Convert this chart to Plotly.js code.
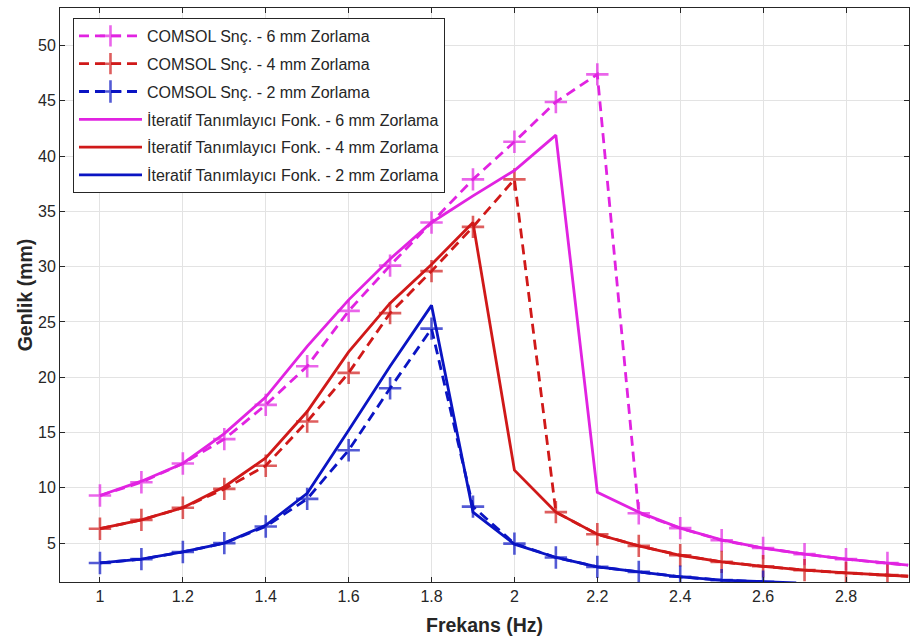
<!DOCTYPE html>
<html>
<head>
<meta charset="utf-8">
<script src="https://cdn.plot.ly/plotly-3.0.1.min.js"></script>
<style>html,body{margin:0;padding:0;background:#fff;}#chart{width:910px;height:644px;}</style>
</head>
<body>
<div id="chart"></div>
<script>
// Frequency (Hz) for COMSOL markers
const freqComsol = [1.0,1.1,1.2,1.3,1.4,1.5,1.6,1.7,1.8,1.9,2.0,2.1,2.2,2.3,2.4,2.5,2.6,2.7,2.8,2.9,2.95];
const comsol6 = [9.3,10.5,12.2,14.4,17.5,21.0,26.0,30.1,34.0,37.9,41.3,44.9,47.4,7.7,6.35,5.25,4.55,4.0,3.55,3.2,3.0];
const comsol4 = [6.3,7.1,8.2,9.9,12.0,16.0,20.4,25.8,29.6,33.6,37.9,7.8,5.8,4.75,3.9,3.3,2.9,2.55,2.3,2.1,2.0];
const freqComsol2 = [1.0,1.1,1.2,1.3,1.4,1.5,1.6,1.7,1.8,1.9,2.0,2.1,2.2,2.3,2.4,2.5,2.6];
const comsol2 = [3.2,3.55,4.2,5.0,6.5,9.0,13.4,19.0,24.4,8.3,4.95,3.7,2.85,2.4,1.95,1.65,1.5];

// Iterative describing function results
const freqIter = [1.0,1.1,1.2,1.3,1.4,1.5,1.6,1.7,1.8,1.9,2.0,2.1,2.2,2.3,2.4,2.5,2.6,2.7,2.8,2.9,2.95];
const iter6 = [9.3,10.6,12.2,14.9,18.2,22.8,27.0,30.7,34.0,36.4,38.7,41.9,9.6,7.8,6.35,5.3,4.55,4.0,3.55,3.2,3.0];
const iter4 = [6.3,7.1,8.2,10.1,12.7,16.9,22.3,26.7,30.2,34.0,11.6,7.8,5.8,4.75,3.9,3.3,2.9,2.55,2.3,2.1,2.0];
const freqIter2 = [1.0,1.1,1.2,1.3,1.4,1.5,1.6,1.7,1.8,1.9,2.0,2.1,2.2,2.3,2.4,2.5,2.6,2.68];
const iter2 = [3.2,3.55,4.2,5.0,6.6,9.5,15.2,21.0,26.5,7.8,4.9,3.7,2.85,2.4,1.95,1.65,1.5,1.4];

const names = [
  "COMSOL Snç. - 6 mm Zorlama",
  "COMSOL Snç. - 4 mm Zorlama",
  "COMSOL Snç. - 2 mm Zorlama",
  "İteratif Tanımlayıcı Fonk. - 6 mm Zorlama",
  "İteratif Tanımlayıcı Fonk. - 4 mm Zorlama",
  "İteratif Tanımlayıcı Fonk. - 2 mm Zorlama"
];
const xTicks = [1,1.2,1.4,1.6,1.8,2,2.2,2.4,2.6,2.8];
const yTicks = [5,10,15,20,25,30,35,40,45,50];

const cMag = "rgb(225,35,225)";
const cRed = "rgb(208,25,25)";
const cBlue = "rgb(10,20,195)";

function dashed(x, y, name, color, g) {
  // last point (2.95) is the line running to the edge, no marker there
  const sizes = x.map(v => v > 2.92 ? 0 : 16);
  return {x, y, name, legendgroup: g, type: "scatter", mode: "lines+markers",
    line: {color, width: 2.8, dash: "10px,6px"},
    marker: {symbol: "cross-thin-open", size: sizes, color, line: {color, width: 2.6}}};
}
function solid(x, y, name, color, g) {
  return {x, y, name, legendgroup: g, type: "scatter", mode: "lines", line: {color, width: 2.8}};
}

const data = [
  dashed(freqComsol, comsol6, names[0], cMag, "a"),
  dashed(freqComsol, comsol4, names[1], cRed, "b"),
  dashed(freqComsol2, comsol2, names[2], cBlue, "c"),
  solid(freqIter, iter6, names[3], cMag, "d"),
  solid(freqIter, iter4, names[4], cRed, "e"),
  solid(freqIter2, iter2, names[5], cBlue, "f")
];

const fam = "Liberation Sans, Arial, sans-serif";
const axisFont = {family: fam, size: 16, color: "#262626"};
const layout = {
  width: 910, height: 644,
  margin: {l: 60, r: 1, t: 8, b: 62},
  paper_bgcolor: "#fff", plot_bgcolor: "#fff",
  showlegend: true,
  legend: {x: 0.0153, y: 0.9826, xanchor: "left", yanchor: "top",
    bgcolor: "#fff", bordercolor: "#262626", borderwidth: 1,
    font: {family: fam, size: 16, color: "#262626"},
    tracegroupgap: 4, itemwidth: 63, traceorder: "grouped"},
  xaxis: {range: [0.9036, 2.952], tickvals: xTicks, ticktext: xTicks.map(String),
    showgrid: true, gridcolor: "#e3e3e3", gridwidth: 1, zeroline: false,
    showline: true, linecolor: "#262626", linewidth: 1, mirror: "ticks",
    ticks: "inside", ticklen: 5, tickcolor: "#262626", tickfont: axisFont,
    title: {text: "<b>Frekans (Hz)</b>", font: {family: fam, size: 19.5, color: "#262626"}, standoff: 14}},
  yaxis: {range: [1.48, 53.4], tickvals: yTicks, ticktext: yTicks.map(String),
    showgrid: true, gridcolor: "#e3e3e3", gridwidth: 1, zeroline: false,
    showline: true, linecolor: "#262626", linewidth: 1, mirror: "ticks",
    ticks: "inside", ticklen: 5, tickcolor: "#262626", tickfont: axisFont,
    title: {text: "<b>Genlik (mm)</b>", font: {family: fam, size: 19.5, color: "#262626"}, standoff: 0}}
};
Plotly.newPlot("chart", data, layout, {staticPlot: true, displayModeBar: false});
</script>
</body>
</html>
